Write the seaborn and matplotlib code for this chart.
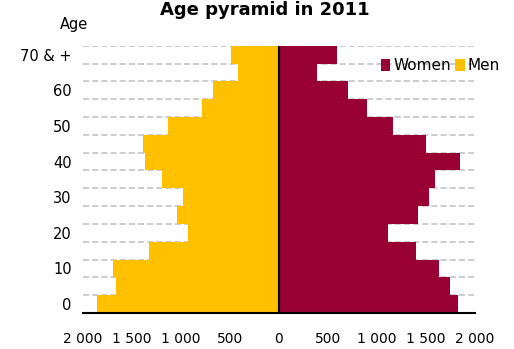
import numpy as np
import pandas as pd
import matplotlib
matplotlib.use("Agg")
import matplotlib.pyplot as plt
import seaborn as sns
from matplotlib.ticker import FuncFormatter

# ---- data (5-year age groups, bottom to top) ----
age_groups = ["0-4", "5-9", "10-14", "15-19", "20-24", "25-29", "30-34", "35-39",
              "40-44", "45-49", "50-54", "55-59", "60-64", "65-69", "70 & +"]
men = [1850, 1656, 1691, 1323, 921, 1034, 976, 1190, 1367, 1385, 1130, 783, 666, 415, 490]
women = [1827, 1752, 1636, 1405, 1112, 1421, 1538, 1595, 1847, 1500, 1170, 905, 707, 395, 590]
age_tick_labels = ["0", "", "10", "", "20", "", "30", "", "40", "", "50", "", "60", "", "70 & +"]
series_names = ["Women", "Men"]
colors = {"Women": "#990033", "Men": "#FFC000"}

sns.set_style("white")
plt.rcParams['font.family'] = ['DejaVu Sans']
plt.rcParams['text.color'] = 'black'
plt.rcParams['xtick.color'] = 'black'
plt.rcParams['ytick.color'] = 'black'
plt.rcParams['axes.labelcolor'] = 'black'

df = pd.DataFrame({
    "age": age_groups * 2,
    "value": list(women) + [-m for m in men],
    "sex": ["Women"] * len(women) + ["Men"] * len(men),
})

fig = plt.figure(figsize=(5.14, 3.49), dpi=100)
ax = fig.add_axes([0.161, 0.103, 0.7625, 0.766])

order = age_groups[::-1]
sns.barplot(data=df, x="value", y="age", hue="sex", order=order,
            hue_order=series_names, palette=colors, dodge=False, width=1.0,
            orient="h", saturation=1, linewidth=0, ax=ax, zorder=2)

n = len(age_groups)
ax.set_xlim(-2000, 2000)
ax.set_ylim(n - 0.5, -0.5)

ax.set_yticks(range(n))
ax.set_yticklabels(age_tick_labels[::-1])
ax.set_yticks(np.arange(-0.5, n - 1, 1), minor=True)
ax.tick_params(axis="y", which="both", length=0, labelsize=10.5, pad=8, labelcolor="black")
ax.yaxis.grid(True, which="minor", color="#BFBFBF", linestyle=(0, (4, 2)), linewidth=1.1, zorder=0)
ax.yaxis.grid(False, which="major")
ax.xaxis.grid(False)
ax.set_axisbelow(True)

ax.set_xticks(np.arange(-2000, 2001, 500))
ax.xaxis.set_major_formatter(FuncFormatter(lambda v, p: f"{abs(int(v)):,}".replace(",", " ")))
ax.tick_params(axis="x", direction="out", length=4, width=1.3, color="black",
               labelsize=10, pad=9.5, labelcolor="black")

for s in ["left", "top", "right"]:
    ax.spines[s].set_visible(False)
ax.spines["bottom"].set_color("black")
ax.spines["bottom"].set_linewidth(1.5)
ax.axvline(0, color="black", linewidth=1.5, zorder=3)

ax.set_xlabel("")
ax.set_ylabel("")

handles, labels = ax.get_legend_handles_labels()
ax.legend(handles, labels, ncol=2, frameon=False, loc="center left",
          bbox_to_anchor=(381 / 514, 1 - 66 / 349), bbox_transform=fig.transFigure,
          handlelength=0.6, handleheight=0.8, handletextpad=0.2, columnspacing=0.3,
          fontsize=11, borderaxespad=0, borderpad=0)

fig.text(74 / 514, 1 - 25 / 349, "Age", ha="center", va="center", fontsize=10.5)
fig.text(265 / 514, 1 - 10 / 349, "Age pyramid in 2011", ha="center", va="center",
         fontsize=13, fontweight="bold")

fig.savefig("out.png", dpi=100)
